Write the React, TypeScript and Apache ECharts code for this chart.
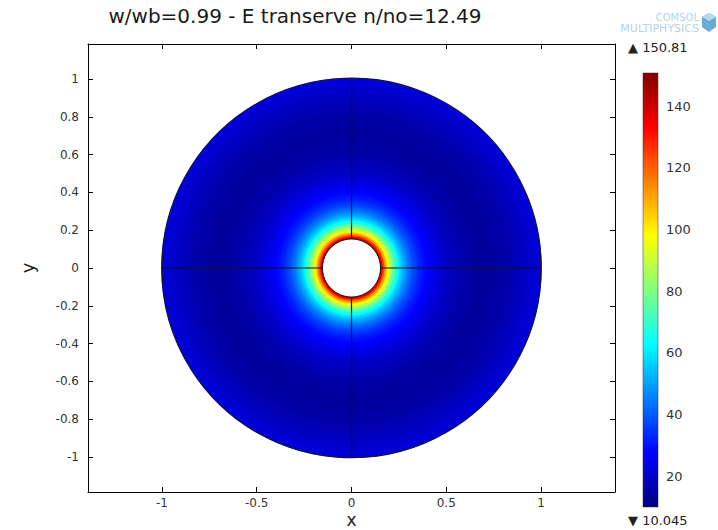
import React, { useEffect, useRef } from 'react';
import * as echarts from 'echarts';

// ---- data ----
const titleText = 'w/wb=0.99 - E transerve n/no=12.49';
const innerRadius = 0.153;
const outerRadius = 1;
// radial profile of |E| (read along the radius)
const radii = [0.153, 0.16, 0.17, 0.18, 0.19, 0.2, 0.22, 0.24, 0.26, 0.28, 0.3, 0.33, 0.36, 0.4, 0.45, 0.5, 0.55, 0.6, 0.65, 0.7, 0.75, 0.8, 0.85, 0.9, 0.95, 1.0];
const fieldValues = [150.8, 138, 124, 112, 101, 92, 78, 66, 57, 50, 44, 37, 32, 27.5, 23.5, 20, 17.5, 15.5, 14.5, 14, 14.5, 15.5, 17, 19, 21, 23];
const xTicks = [-1, -0.5, 0, 0.5, 1];
const yTicks = [-1, -0.8, -0.6, -0.4, -0.2, 0, 0.2, 0.4, 0.6, 0.8, 1];
const colorTicks = [20, 40, 60, 80, 100, 120, 140];
const colorMin = 10.045;
const colorMax = 150.81;
const xRange = [-1.39, 1.39];
const yRange = [-1.185, 1.185];
const jetColors = ['#000080', '#0000ff', '#0080ff', '#00ffff', '#80ff80', '#ffff00', '#ff8000', '#ff0000', '#800000'];
const boundarySegments = [
  [0, innerRadius, 0, outerRadius],
  [0, -innerRadius, 0, -outerRadius],
  [innerRadius, 0, outerRadius, 0],
  [-innerRadius, 0, -outerRadius, 0],
];

function hexToRgb(h: string) {
  return [parseInt(h.slice(1, 3), 16), parseInt(h.slice(3, 5), 16), parseInt(h.slice(5, 7), 16)];
}
const jetRgb = jetColors.map(hexToRgb);
function jet(v: number) {
  let t = (v - colorMin) / (colorMax - colorMin);
  t = Math.max(0, Math.min(1, t));
  const pos = t * (jetRgb.length - 1);
  const i = Math.min(Math.floor(pos), jetRgb.length - 2);
  const f = pos - i;
  const a = jetRgb[i], b = jetRgb[i + 1];
  const c = a.map((x, k) => Math.round(x + (b[k] - x) * f));
  return `rgb(${c[0]},${c[1]},${c[2]})`;
}

const ringData = radii.slice(0, -1).map((r, i) => [r, fieldValues[i], radii[i + 1], fieldValues[i + 1]]);

const FONT = '"DejaVu Sans", "Noto Sans", sans-serif';

export default function App() {
  const ref = useRef<HTMLDivElement>(null);
  useEffect(() => {
    if (!ref.current) return;
    const chart = echarts.init(ref.current, undefined, { renderer: 'svg' });
    const tickAxisCommon = {
      axisLine: { show: true, onZero: false, lineStyle: { color: '#000', width: 1 } },
      splitLine: { show: false },
    };
    chart.setOption({
      animation: false,
      backgroundColor: '#fff',
      grid: [
        { left: 88, top: 44, width: 527, height: 448, show: false, containLabel: false, outerBoundsMode: 'none' },
        { left: 643, top: 73, width: 15, height: 434, show: false, containLabel: false, outerBoundsMode: 'none' },
      ],
      xAxis: [
        {
          gridIndex: 0, type: 'value', min: xRange[0], max: xRange[1], position: 'bottom',
          ...tickAxisCommon,
          axisTick: { inside: true, length: 5, customValues: xTicks, lineStyle: { color: '#000' } },
          axisLabel: { customValues: xTicks, color: '#333', fontSize: 12, margin: 5, fontFamily: FONT },
          name: 'x', nameLocation: 'middle', nameGap: 19, nameMoveOverlap: false,
          nameTextStyle: { fontSize: 17, color: '#222', fontFamily: FONT, lineHeight: 17 },
        },
        {
          gridIndex: 0, type: 'value', min: xRange[0], max: xRange[1], position: 'top',
          ...tickAxisCommon,
          axisTick: { inside: true, length: 5, customValues: xTicks, lineStyle: { color: '#000' } },
          axisLabel: { show: false },
        },
        { gridIndex: 1, type: 'value', min: 0, max: 1, show: false },
      ],
      yAxis: [
        {
          gridIndex: 0, type: 'value', min: yRange[0], max: yRange[1], position: 'left',
          ...tickAxisCommon,
          axisTick: { inside: true, length: 5, customValues: yTicks, lineStyle: { color: '#000' } },
          axisLabel: { customValues: yTicks, color: '#333', fontSize: 12, margin: 9, fontFamily: FONT },
          name: 'y', nameLocation: 'middle', nameGap: 52, nameMoveOverlap: false,
          nameTextStyle: { fontSize: 18, color: '#222', fontFamily: FONT },
        },
        {
          gridIndex: 0, type: 'value', min: yRange[0], max: yRange[1], position: 'right',
          ...tickAxisCommon,
          axisTick: { inside: true, length: 5, customValues: yTicks, lineStyle: { color: '#000' } },
          axisLabel: { show: false },
        },
        {
          gridIndex: 1, type: 'value', min: colorMin, max: colorMax, position: 'right',
          axisLine: { show: false }, axisTick: { show: false }, splitLine: { show: false },
          axisLabel: { customValues: colorTicks, color: '#333', fontSize: 13, margin: 8, fontFamily: FONT },
        },
      ],
      series: [
        {
          type: 'custom', name: 'field', xAxisIndex: 0, yAxisIndex: 0, z: 1,
          data: ringData,
          renderItem: (params: any, api: any) => {
            const r0 = api.value(0), v0 = api.value(1), r1 = api.value(2), v1 = api.value(3);
            const c = api.coord([0, 0]);
            const p0 = api.size([r0, 0])[0];
            const p1 = api.size([r1, 0])[0];
            const stops = [];
            for (let k = 0; k <= 6; k++) {
              const f = k / 6;
              stops.push({ offset: (p0 + (p1 - p0) * f) / p1, color: jet(v0 + (v1 - v0) * f) });
            }
            const grad = new echarts.graphic.RadialGradient(c[0], c[1], p1, stops, true);
            return {
              type: 'ring',
              shape: { cx: c[0], cy: c[1], r: p1, r0: p0 },
              style: { fill: grad, stroke: grad, lineWidth: 1.6 },
              silent: true,
            };
          },
        },
        {
          type: 'custom', name: 'boundaries', xAxisIndex: 0, yAxisIndex: 0, z: 5,
          data: boundarySegments,
          renderItem: (params: any, api: any) => {
            const a = api.coord([api.value(0), api.value(1)]);
            const b = api.coord([api.value(2), api.value(3)]);
            return {
              type: 'line',
              shape: { x1: a[0], y1: a[1], x2: b[0], y2: b[1] },
              style: { stroke: '#111', lineWidth: 1.2 },
            };
          },
        },
        {
          type: 'custom', name: 'circles', xAxisIndex: 0, yAxisIndex: 0, z: 6,
          data: [[innerRadius], [outerRadius]],
          renderItem: (params: any, api: any) => {
            const c = api.coord([0, 0]);
            const r = api.size([api.value(0), 0])[0];
            return {
              type: 'circle',
              shape: { cx: c[0], cy: c[1], r },
              style: { fill: params.dataIndex === 0 ? '#fff' : 'none', stroke: '#1a1a1a', lineWidth: 1 },
            };
          },
        },
        {
          type: 'custom', name: 'colorbar', xAxisIndex: 2, yAxisIndex: 2,
          data: [[0, colorMin, 1, colorMax]],
          renderItem: (params: any, api: any) => {
            const a = api.coord([api.value(0), api.value(1)]);
            const b = api.coord([api.value(2), api.value(3)]);
            const stops = jetColors.map((col, i) => ({ offset: i / (jetColors.length - 1), color: col }));
            const grad = new echarts.graphic.LinearGradient(0, 1, 0, 0, stops);
            return {
              type: 'rect',
              shape: { x: a[0], y: b[1], width: b[0] - a[0], height: a[1] - b[1] },
              style: { fill: grad, stroke: '#333', lineWidth: 0.5 },
            };
          },
        },
      ],
      graphic: [
        {
          type: 'text',
          style: { text: titleText, x: 295, y: 16, align: 'center', verticalAlign: 'middle', font: `20px ${FONT}`, fill: '#1a1a1a' },
        },
        {
          type: 'text',
          style: { text: '▲ ' + colorMax, x: 628, y: 47, align: 'left', verticalAlign: 'middle', font: `13px ${FONT}`, fill: '#222' },
        },
        {
          type: 'text',
          style: { text: '▼ ' + colorMin, x: 628, y: 520, align: 'left', verticalAlign: 'middle', font: `13px ${FONT}`, fill: '#222' },
        },
        {
          type: 'text',
          style: { text: 'COMSOL', x: 699, y: 17, align: 'right', verticalAlign: 'middle', font: `10px ${FONT}`, fill: '#b3d3e3' },
        },
        {
          type: 'text',
          style: { text: 'MULTIPHYSICS', x: 699, y: 28, align: 'right', verticalAlign: 'middle', font: `11px ${FONT}`, fill: '#b3d3e3' },
        },
        {
          type: 'polygon',
          shape: { points: [[709, 13], [716, 17], [716, 27], [709, 32], [702, 27], [702, 17]] },
          style: { fill: '#6aaad6' },
        },
        {
          type: 'polygon',
          shape: { points: [[709, 13], [716, 17], [709, 21], [702, 17]] },
          style: { fill: '#b5d8ee' },
        },
      ],
    });
    return () => chart.dispose();
  }, []);
  return <div ref={ref} style={{ position: 'fixed', left: 0, top: 0, width: 718, height: 530 }} />;
}
